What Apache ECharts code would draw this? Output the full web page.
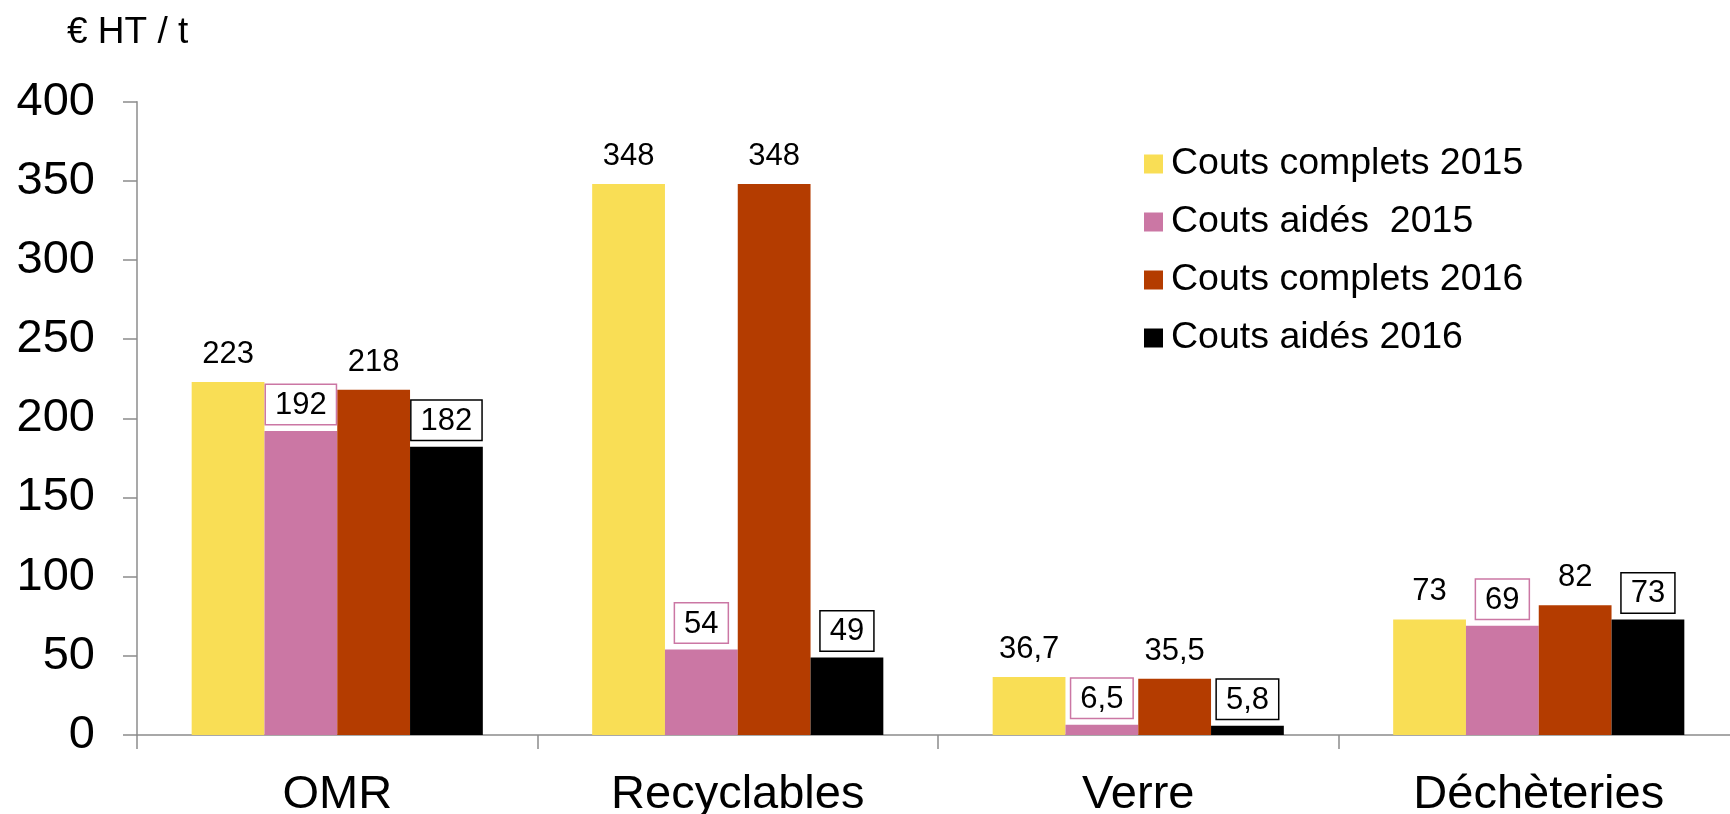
<!DOCTYPE html>
<html>
<head>
<meta charset="utf-8">
<script src="https://cdn.jsdelivr.net/npm/echarts@6/dist/echarts.min.js"></script>
<style>
html,body{margin:0;padding:0;background:#fff;overflow:hidden;}
#chart{width:1730px;height:814px;}
</style>
</head>
<body>
<div id="chart"></div>
<script>
const categories = ['OMR', 'Recyclables', 'Verre', 'Déchèteries'];
const seriesNames = ['Couts complets 2015', 'Couts aidés  2015', 'Couts complets 2016', 'Couts aidés 2016'];
const complets2015 = [223, 348, 36.7, 73];
const aides2015 = [192, 54, 6.5, 69];
const complets2016 = [218, 348, 35.5, 82];
const aides2016 = [182, 49, 5.8, 73];
const yTicks = [0, 50, 100, 150, 200, 250, 300, 350, 400];
const unitLabel = '€ HT / t';

const colors = ['#F9DE55', '#CB77A4', '#B43C00', '#000000'];
const FONT = '"Liberation Sans", Arial, sans-serif';
const fmt = p => String(p.value).replace('.', ',');

function plainLabel() {
  return { show: true, position: 'top', distance: 12, formatter: fmt, color: '#000', fontSize: 31, fontFamily: FONT };
}
function boxLabel(border) {
  return { show: true, position: 'top', distance: 7, formatter: fmt, color: '#000', fontSize: 31, fontFamily: FONT,
    backgroundColor: '#fff', borderColor: border, borderWidth: 1.5, padding: [5, 9, 3, 9] };
}

const data = [complets2015, aides2015, complets2016, aides2016];
const labels = [plainLabel(), boxLabel('#CB77A4'), plainLabel(), boxLabel('#000')];

const chart = echarts.init(document.getElementById('chart'), null, { renderer: 'canvas' });
chart.setOption({
  animation: false,
  backgroundColor: '#fff',
  color: colors,
  title: {
    text: unitLabel, left: 62, top: 9,
    textStyle: { fontSize: 37, fontWeight: 'normal', color: '#000', fontFamily: FONT }
  },
  legend: {
    orient: 'vertical', left: 1139, top: 140, icon: 'rect',
    itemWidth: 19, itemHeight: 19, itemGap: 20,
    data: seriesNames,
    textStyle: { fontSize: 37.5, color: '#000', fontFamily: FONT, padding: [0, 0, 0, 3] }
  },
  grid: { left: 137, right: -9, top: 101.7, bottom: 79, containLabel: false, outerBoundsMode: 'none' },
  xAxis: {
    type: 'category', data: categories,
    axisLine: { lineStyle: { color: '#8c8c8c', width: 1.5 } },
    axisTick: { show: true, length: 14, lineStyle: { color: '#8c8c8c', width: 1.5 } },
    axisLabel: { fontSize: 47, color: '#000', fontFamily: FONT, margin: 37 }
  },
  yAxis: {
    type: 'value', min: yTicks[0], max: yTicks[yTicks.length - 1], interval: yTicks[1] - yTicks[0],
    splitLine: { show: false },
    axisLine: { show: true, lineStyle: { color: '#8c8c8c', width: 1.5 } },
    axisTick: { show: true, length: 14, lineStyle: { color: '#8c8c8c', width: 1.5 } },
    axisLabel: { fontSize: 47, color: '#000', fontFamily: FONT, margin: 42 }
  },
  series: seriesNames.map((name, i) => ({
    name, type: 'bar', data: data[i],
    barGap: '0%', barCategoryGap: '27.3%',
    itemStyle: { color: colors[i] },
    label: labels[i]
  }))
});
</script>
</body>
</html>
